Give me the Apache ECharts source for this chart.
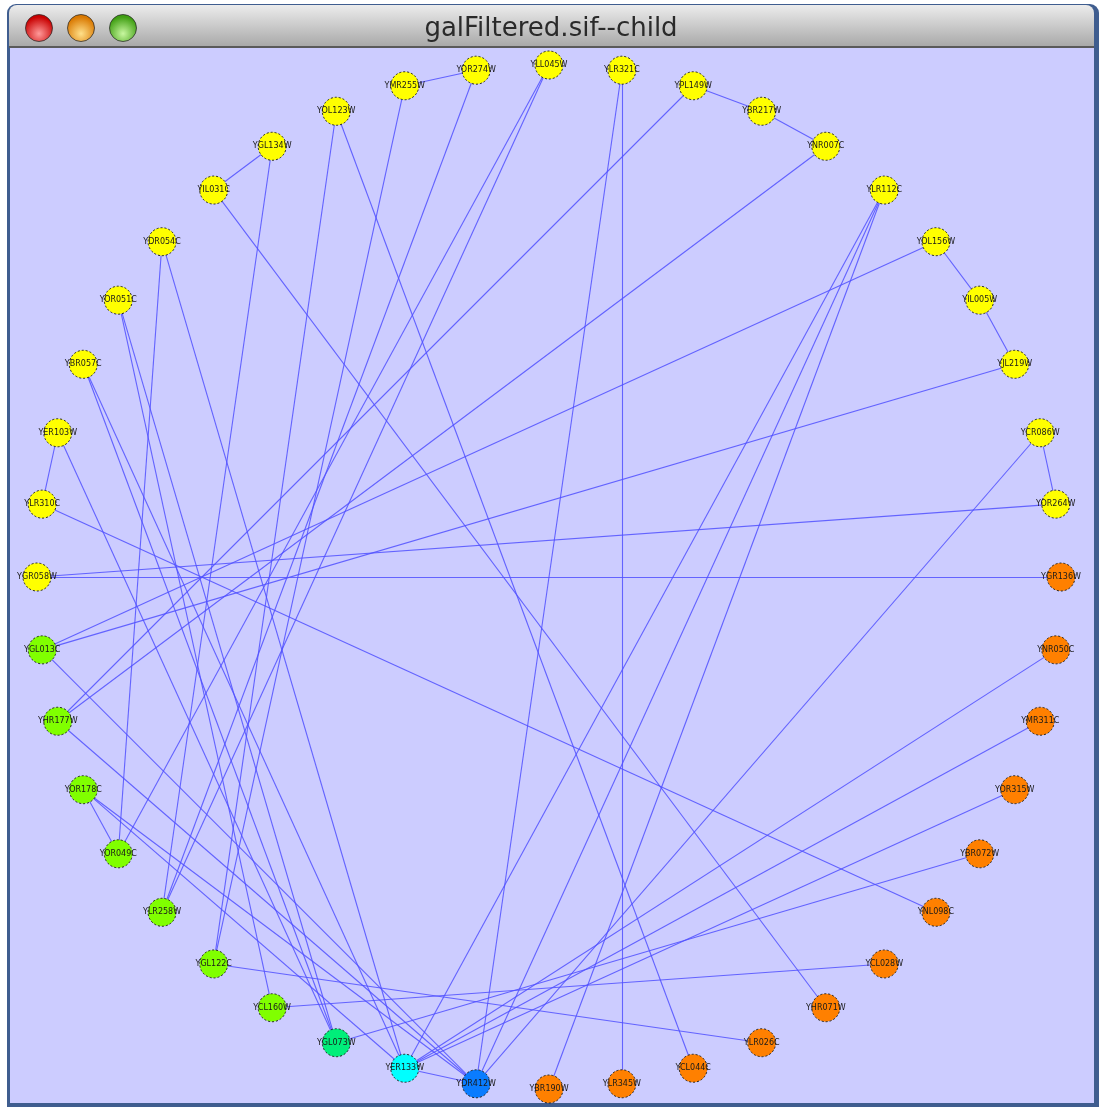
<!DOCTYPE html>
<html>
<head>
<meta charset="utf-8">
<script src="https://cdn.jsdelivr.net/npm/echarts@6/dist/echarts.min.js"></script>
<style>html,body{margin:0;padding:0;background:#fff}#chart{width:1099px;height:1107px}</style>
</head>
<body>
<div id="chart"></div>
<script>
// Node names in circular order, clockwise starting at the top
const nodeNames = [
  'YLL045W','YLR321C','YPL149W','YBR217W','YNR007C','YLR112C','YOL156W','YIL005W','YJL219W','YCR086W','YOR264W',
  'YGR136W','YNR050C','YMR311C','YOR315W','YBR072W','YNL098C','YCL028W','YHR071W','YLR026C','YCL044C','YLR345W',
  'YBR190W','YDR412W','YER133W','YGL073W','YCL160W','YGL122C','YLR258W','YOR049C','YOR178C','YHR177W','YGL013C',
  'YGR058W','YLR310C','YER103W','YBR057C','YOR051C','YDR054C','YIL031C','YGL134W','YOL123W','YMR255W','YOR274W'
];
// Group of each node (same order)
const nodeGroups = [
  'A','A','A','A','A','A','A','A','A','A','A',
  'B','B','B','B','B','B','B','B','B','B','B',
  'B','C','D','E','F','F','F','F','F','F','F',
  'A','A','A','A','A','A','A','A','A','A','A'
];
// Edges
const edgeSources = [
  'YPL149W','YBR217W','YOL156W','YIL005W','YCR086W','YLR310C','YIL031C','YMR255W','YOR049C','YDR412W',
  'YLR321C','YLR321C','YPL149W','YNR007C','YLR112C','YLR112C','YLR112C','YOL156W','YJL219W','YCR086W',
  'YOR264W','YGR136W','YNR050C','YMR311C','YOR315W','YBR072W','YNL098C','YCL028W','YHR071W','YLR026C',
  'YCL044C','YLL045W','YLL045W','YGL134W','YOL123W','YMR255W','YOR274W','YDR054C','YDR054C','YOR051C',
  'YOR051C','YBR057C','YBR057C','YER103W','YGL013C','YHR177W','YOR178C','YOR178C'
];
const edgeTargets = [
  'YBR217W','YNR007C','YIL005W','YJL219W','YOR264W','YER103W','YGL134W','YOR274W','YOR178C','YER133W',
  'YLR345W','YDR412W','YHR177W','YHR177W','YBR190W','YDR412W','YER133W','YGL013C','YGL013C','YDR412W',
  'YGR058W','YGR058W','YER133W','YER133W','YER133W','YGL073W','YLR310C','YCL160W','YIL031C','YGL122C',
  'YOL123W','YOR049C','YLR258W','YLR258W','YGL122C','YGL122C','YLR258W','YOR049C','YER133W','YCL160W',
  'YGL073W','YGL073W','YER133W','YGL073W','YDR412W','YDR412W','YDR412W','YER133W'
];
const windowTitle = 'galFiltered.sif--child';

const groupColor = { A: '#ffff00', B: '#ff8000', C: '#0a7cff', D: '#00ffff', E: '#00ee7a', F: '#80ff00' };

const nodes = nodeNames.map((n, i) => ({
  name: n,
  value: [1, i],
  itemStyle: { color: groupColor[nodeGroups[i]] }
}));
const links = edgeSources.map((s, i) => ({ source: s, target: edgeTargets[i] }));

const chart = echarts.init(document.getElementById('chart'), null, { renderer: 'canvas' });

const light = (cx, c1, c2) => ({
  type: 'circle', z: 1,
  shape: { cx: cx, cy: 28, r: 13.5 },
  style: {
    fill: { type: 'radial', x: 0.5, y: 0.7, r: 0.6, colorStops: [{ offset: 0, color: c1 }, { offset: 1, color: c2 }] },
    stroke: 'rgba(40,40,40,0.75)', lineWidth: 1
  }
});

chart.setOption({
  animation: false,
  backgroundColor: '#ffffff',
  graphic: [
    { type: 'rect', z: 0, shape: { x: 7, y: 4, width: 1092, height: 1103, r: [9, 9, 0, 0] }, style: { fill: '#3f5d8f' } },
    { type: 'rect', z: 0, shape: { x: 9, y: 5, width: 1085, height: 43, r: [8, 8, 0, 0] },
      style: { fill: { type: 'linear', x: 0, y: 0, x2: 0, y2: 1, colorStops: [{ offset: 0, color: '#ececec' }, { offset: 1, color: '#a6a6a6' }] } } },
    { type: 'rect', z: 0, shape: { x: 9, y: 46, width: 1085, height: 2 }, style: { fill: '#5a5a5a' } },
    { type: 'rect', z: 0, shape: { x: 10, y: 48, width: 1084, height: 1055 }, style: { fill: '#ccccff' } },
    light(39, '#ff9a9a', '#c80000'),
    light(81, '#ffe08a', '#d97800'),
    light(123, '#c8f7a0', '#3f9e12'),
    { type: 'text', z: 1, x: 551, y: 29,
      style: { text: windowTitle, fill: '#2a2a2a', font: '26px "DejaVu Sans"', textAlign: 'center', textVerticalAlign: 'middle' } }
  ],
  polar: { center: [549, 577], radius: 512 },
  angleAxis: { type: 'value', min: 0, max: nodeNames.length, startAngle: 90, clockwise: true, show: false },
  radiusAxis: { type: 'value', min: 0, max: 1, show: false },
  series: [{
    type: 'graph',
    coordinateSystem: 'polar',
    polarIndex: 0,
    z: 5,
    data: nodes,
    links: links,
    symbol: 'circle',
    symbolSize: 28,
    itemStyle: { borderColor: '#222', borderWidth: 1, borderType: [2, 2] },
    lineStyle: { color: '#5050ff', opacity: 0.85, width: 1.1, curveness: 0 },
    label: {
      show: true, position: 'inside', formatter: '{b}',
      fontSize: 8, fontFamily: 'DejaVu Sans', color: '#1a1a1a'
    },
    emphasis: { disabled: true }
  }]
});
</script>
</body>
</html>
